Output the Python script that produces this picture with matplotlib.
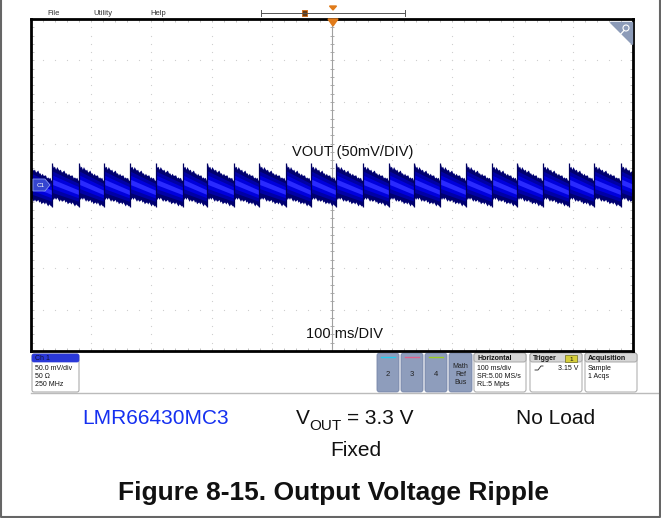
import numpy as np
import matplotlib
matplotlib.use('Agg')
import matplotlib.pyplot as plt
from matplotlib.patches import Polygon, Rectangle, FancyBboxPatch, Circle

plt.rcParams['font.family'] = ['Liberation Sans', 'DejaVu Sans']

W, H = 661, 518

# scope settings: 10 x 100 ms, 8 x 50 mV
T_DIV = 100
V_DIV = 50

# times (ms) where the output ripple jumps up (one per switching burst)
JUMP_MS = [-507, -465, -420, -379, -336, -293, -248, -207, -163, -121,
           -76, -35, 7, 51, 95, 137, 180, 223, 265, 308, 350, 393, 435,
           480, 523]
# envelope of the trace at start / end of each period (mV)
TOP_MV = [22, 6]
BOT_MV = [-14, -24]
# edge roughness (mV)
TOP_JAG = [4, 0, 2, -1, 3, 1, 0, 2, -1, 1, 3, 0, 1, -1, 2, 0, 1, 2, -1, 1,
           0, 2, -1, 0]
BOT_JAG = [1, 3, 0, 2, -1, 1, 3, 0, 2, 1, -1, 2, 0, 3, 1, 0, 2, -1, 1, 3,
           0, 1, 2, 0]

fig = plt.figure(figsize=(W / 100, H / 100), dpi=100)

# background layer in pixel coordinates
bg = fig.add_axes([0, 0, 1, 1], zorder=0)
bg.set_xlim(0, W)
bg.set_ylim(H, 0)
bg.axis('off')

# scope screen
ax = fig.add_axes([31 / W, 1 - 351 / H, 602 / W, 332 / H], zorder=1)
ax.set_xlim(-5 * T_DIV, 5 * T_DIV)
ax.set_ylim(-4 * V_DIV, 4 * V_DIV)
for s in ax.spines.values():
    s.set_linewidth(2)
    s.set_color('black')
ax.set_xticks(np.arange(-500, 501, 20))
ax.set_yticks(np.arange(-200, 201, 10))
ax.tick_params(direction='in', length=2, width=0.5, color='#aaaaaa',
               top=True, right=True, labelbottom=False, labelleft=False)

# dotted graticule
minor_y = np.arange(-200, 201, 10)
minor_x = np.arange(-500, 501, 20)
for gx in range(-400, 401, 100):
    if gx != 0:
        ax.plot([gx] * len(minor_y), minor_y, ls='', marker='s', ms=0.8,
                mew=0, color='#cfcfcf', zorder=1)
for gy in range(-150, 151, 50):
    if gy != 0:
        ax.plot(minor_x, [gy] * len(minor_x), ls='', marker='s', ms=0.8,
                mew=0, color='#cfcfcf', zorder=1)
# centre crosshair
ax.axvline(0, color='#a0a0a0', lw=0.8, zorder=1)
ax.axhline(0, color='#a0a0a0', lw=0.8, zorder=1)
ax.plot([0] * len(minor_y), minor_y, ls='', marker='_', ms=3.5, mew=0.6,
        color='#a0a0a0', zorder=1)
ax.plot(minor_x, [0] * len(minor_x), ls='', marker='|', ms=3.5, mew=0.6,
        color='#a0a0a0', zorder=1)

# waveform, one sawtooth period at a time
layers = [(1.0, '#000070'), (0.72, '#0000A6'), (0.45, '#0000DC'),
          (0.18, '#2A2AFF')]
n = len(TOP_JAG)
for a, b in zip(JUMP_MS[:-1], JUMP_MS[1:]):
    f = np.linspace(0, 1, n)
    t = a + (b - a) * f
    top = TOP_MV[0] + (TOP_MV[1] - TOP_MV[0]) * f
    bot = BOT_MV[0] + (BOT_MV[1] - BOT_MV[0]) * f
    mid = (top + bot) / 2
    half = (top - bot) / 2
    for frac, col in layers:
        if frac == 1.0:
            hi = top + np.array(TOP_JAG)
            lo = bot - np.array(BOT_JAG)
        else:
            hi = mid + half * frac
            lo = mid - half * frac
        ax.fill_between(t, lo, hi, color=col, lw=0, zorder=2)
    ax.vlines(a, BOT_MV[1] - 2, TOP_MV[0] + 4, color='#000060', lw=0.9,
              zorder=2)

# overlay layer in pixel coordinates
fg = fig.add_axes([0, 0, 1, 1], zorder=3)
fg.set_xlim(0, W)
fg.set_ylim(H, 0)
fg.axis('off')

fg.text(353, 156, 'VOUT (50mV/DIV)', fontsize=10.5, ha='center',
        va='baseline', color='#111111')
fg.text(345, 338, '100 ms/DIV', fontsize=10.5, ha='center', va='baseline',
        color='#111111')

# trigger marker and C1 marker
fg.add_patch(Polygon([(328, 19), (338, 19), (333, 26)], closed=True,
                     color='#E07B1A'))
fg.add_patch(Polygon([(33, 179), (45, 179), (50, 185), (45, 191), (33, 191)],
                     closed=True, fc='#3545D0', ec='#8a98f0', lw=0.6))
fg.text(37, 185.5, 'C1', fontsize=4.5, color='white', va='center',
        ha='left')
# zoom icon
fg.add_patch(Polygon([(610, 22), (632, 22), (632, 44)], closed=True,
                     color='#8C9BB8'))
fg.add_patch(Circle((626, 28), 3, fc='none', ec='white', lw=0.8))
fg.plot([624, 619], [30.5, 36], color='white', lw=0.9)

# header menu and slider
for x, s in [(47, 'File'), (93, 'Utility'), (150, 'Help')]:
    bg.text(x, 15, s, fontsize=5.5, color='#333333', va='baseline')
bg.plot([261, 405], [12.5, 12.5], color='#555555', lw=0.7)
bg.plot([261, 261], [9.5, 15.5], color='#555555', lw=0.7)
bg.plot([405, 405], [9.5, 15.5], color='#555555', lw=0.7)
bg.add_patch(Rectangle((301.5, 9.5), 5, 6.5, fc='#6A3A10', ec='#D07020',
                       lw=0.7))
bg.add_patch(Polygon([(329.5, 6), (336.5, 6), (333, 10)], closed=True,
                     color='#E07B1A'))

# status bar
bg.plot([31, W], [392.5, 392.5], color='#bbbbbb', lw=1)
bg.add_patch(FancyBboxPatch((32, 354), 47, 38,
                            boxstyle='round,pad=0,rounding_size=2',
                            fc='white', ec='#a0a0a0', lw=0.7))
bg.add_patch(FancyBboxPatch((32, 354), 47, 8,
                            boxstyle='round,pad=0,rounding_size=2',
                            fc='#2A38D8', ec='#2A38D8', lw=0.5))
bg.text(35, 360.5, 'Ch 1', fontsize=5, color='#111133', va='baseline')
for y, s in [(370.5, '50.0 mV/div'), (378.5, '50 Ω'), (386.5, '250 MHz')]:
    bg.text(35, y, s, fontsize=5, color='#111111', va='baseline')

for x, lab, col in [(377, '2', '#22CCEE'), (401, '3', '#E0608A'),
                    (425, '4', '#99CC22')]:
    bg.add_patch(FancyBboxPatch((x, 353), 22, 39,
                                boxstyle='round,pad=0,rounding_size=2.5',
                                fc='#8E9DBC', ec='#7585a8', lw=0.6))
    bg.plot([x + 4, x + 18], [356.5, 356.5], color=col, lw=1)
    bg.text(x + 11, 376.5, lab, fontsize=5.5, color='#222222', ha='center',
            va='baseline')
bg.add_patch(FancyBboxPatch((449, 353), 23, 39,
                            boxstyle='round,pad=0,rounding_size=2.5',
                            fc='#8E9DBC', ec='#7585a8', lw=0.6))
for y, s in [(368, 'Math'), (376, 'Ref'), (384.5, 'Bus')]:
    bg.text(460.5, y, s, fontsize=5, color='#222222', ha='center',
            va='baseline')

boxes = [(474, 52, 'Horizontal', ['100 ms/div', 'SR:5.00 MS/s', 'RL:5 Mpts']),
         (530, 52, 'Trigger', []),
         (585, 52, 'Acquisition', ['Sample', '1 Acqs'])]
for x, w, head, lines in boxes:
    bg.add_patch(FancyBboxPatch((x, 353), w, 39,
                                boxstyle='round,pad=0,rounding_size=2.5',
                                fc='white', ec='#a8a8a8', lw=0.7))
    bg.add_patch(FancyBboxPatch((x, 353), w, 9,
                                boxstyle='round,pad=0,rounding_size=2.5',
                                fc='#d6d6d6', ec='#a8a8a8', lw=0.7))
    bg.text(x + 3, 360.5, head, fontsize=5, color='#111111', va='baseline',
            fontweight='bold')
    for i, s in enumerate(lines):
        bg.text(x + 3, 369.5 + 8.3 * i, s, fontsize=5, color='#111111',
                va='baseline')
bg.add_patch(Rectangle((565, 355), 12, 6.5, fc='#D6CE3A', ec='#6b6b20',
                       lw=0.5))
bg.text(571, 360.8, '1', fontsize=4.5, ha='center', va='baseline',
        color='#111111')
bg.plot([535, 538, 541, 543], [370, 370, 366, 366], color='#222222', lw=0.6)
bg.text(578, 369.5, '3.15 V', fontsize=5, ha='right', va='baseline',
        color='#111111')

# caption area
bg.text(156, 424, 'LMR66430MC3', fontsize=15, color='#1530F0', ha='center',
        va='baseline')
bg.text(296, 424, 'V', fontsize=15, color='#111111', va='baseline')
bg.text(309, 430, 'OUT', fontsize=11, color='#111111', va='baseline')
bg.text(347, 424, '= 3.3 V', fontsize=15, color='#111111', va='baseline')
bg.text(356, 456, 'Fixed', fontsize=15, color='#111111', ha='center',
        va='baseline')
bg.text(556, 424, 'No Load', fontsize=15, color='#111111', ha='center',
        va='baseline')
bg.text(334, 500, 'Figure 8-15. Output Voltage Ripple', fontsize=19,
        fontweight='bold', color='#111111', ha='center', va='baseline')

# page frame
bg.plot([1, 1, W - 1, W - 1], [0, H - 1, H - 1, 0], color='#666666', lw=1.5)

fig.savefig('out.png', dpi=100)
